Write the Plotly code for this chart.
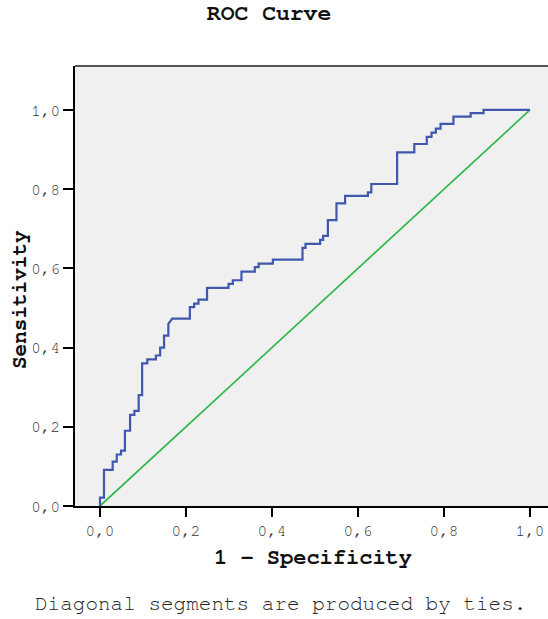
import plotly.graph_objects as go

# ROC curve vertices (1 - specificity, sensitivity)
fpr = [0, 0, 0.0093, 0.0093, 0.0295, 0.0295, 0.039, 0.039, 0.049, 0.049, 0.058, 0.058,
       0.07, 0.07, 0.08, 0.08, 0.09, 0.09, 0.098, 0.098, 0.11, 0.11, 0.13, 0.13, 0.14, 0.14,
       0.149, 0.149, 0.159, 0.159, 0.168, 0.209, 0.209, 0.219, 0.219, 0.229, 0.229, 0.249,
       0.249, 0.299, 0.299, 0.309, 0.309, 0.329, 0.329, 0.36, 0.36, 0.369, 0.369, 0.402,
       0.402, 0.471, 0.471, 0.478, 0.478, 0.512, 0.512, 0.519, 0.519, 0.53, 0.53, 0.55,
       0.55, 0.57, 0.57, 0.623, 0.623, 0.631, 0.631, 0.691, 0.691, 0.731, 0.731, 0.76,
       0.76, 0.771, 0.771, 0.781, 0.781, 0.792, 0.792, 0.822, 0.822, 0.862, 0.862, 0.892,
       0.892, 1.0]
tpr = [0, 0.021, 0.021, 0.091, 0.091, 0.112, 0.112, 0.13, 0.13, 0.14, 0.14, 0.19,
       0.19, 0.23, 0.23, 0.24, 0.24, 0.28, 0.28, 0.36, 0.36, 0.37, 0.37, 0.38, 0.38, 0.40,
       0.40, 0.43, 0.43, 0.46, 0.473, 0.473, 0.502, 0.502, 0.511, 0.511, 0.521, 0.521,
       0.551, 0.551, 0.561, 0.561, 0.570, 0.570, 0.592, 0.592, 0.603, 0.603, 0.612, 0.612,
       0.622, 0.622, 0.652, 0.652, 0.662, 0.662, 0.672, 0.672, 0.682, 0.682, 0.722, 0.722,
       0.764, 0.764, 0.783, 0.783, 0.792, 0.792, 0.813, 0.813, 0.893, 0.893, 0.914, 0.914,
       0.932, 0.932, 0.943, 0.943, 0.953, 0.953, 0.965, 0.965, 0.983, 0.983, 0.992, 0.992,
       1.0, 1.0]

ref_x = [0, 1]
ref_y = [0, 1]

tick_vals = [0, 0.2, 0.4, 0.6, 0.8, 1.0]
tick_text = ["0,0", "0,2", "0,4", "0,6", "0,8", "1,0"]

MONO = "Nimbus Mono PS, FreeMono, Courier New, Liberation Mono, monospace"

fig = go.Figure()
fig.add_trace(go.Scatter(x=ref_x, y=ref_y, mode="lines",
                         line=dict(color="#2DB84A", width=1.7), hoverinfo="skip"))
fig.add_trace(go.Scatter(x=fpr, y=tpr, mode="lines",
                         line=dict(color="#3F58AE", width=2.2)))

fig.update_layout(
    width=548, height=619,
    margin=dict(l=75, r=0, t=66, b=113),
    paper_bgcolor="white", plot_bgcolor="#F0F0F0",
    showlegend=False,
    font=dict(family=MONO, color="#222222"),
)
fig.update_xaxes(range=[-0.0581, 1.0419], tickvals=tick_vals, ticktext=tick_text,
                 showgrid=False, zeroline=False, showline=True, linecolor="black",
                 linewidth=1.5, ticks="outside", ticklen=9, tickwidth=1.5, tickcolor="black",
                 tickfont=dict(family=MONO, size=16, color="#333333"))
fig.update_yaxes(range=[0, 1.111], tickvals=tick_vals, ticktext=tick_text,
                 showgrid=False, zeroline=False, showline=True, linecolor="black",
                 linewidth=1.5, ticks="outside", ticklen=10, tickwidth=1.5, tickcolor="black",
                 tickfont=dict(family=MONO, size=16, color="#333333"))

# top border of the plot frame
fig.add_shape(type="line", xref="paper", yref="paper", x0=0, x1=1, y0=1, y1=1,
              line=dict(color="#555555", width=2))

fig.add_annotation(text="<b>ROC Curve</b>", xref="paper", yref="paper",
                   x=(269 - 75) / 473, y=1 + (66 - 13) / 440, showarrow=False,
                   xanchor="center", yanchor="middle",
                   font=dict(family=MONO, size=23, color="#111111"))
fig.add_annotation(text="<b>1 - Specificity</b>", xref="paper", yref="paper",
                   x=(313 - 75) / 473, y=-(557 - 506) / 440, showarrow=False,
                   xanchor="center", yanchor="middle",
                   font=dict(family=MONO, size=22, color="#111111"))
fig.add_annotation(text="<b>Sensitivity</b>", xref="paper", yref="paper",
                   x=-(75 - 19) / 473, y=(506 - 300) / 440, showarrow=False,
                   textangle=-90, xanchor="center", yanchor="middle",
                   font=dict(family=MONO, size=21, color="#111111"))
fig.add_annotation(text="Diagonal segments are produced by ties.", xref="paper", yref="paper",
                   x=-(75 - 33) / 473, y=-(603 - 506) / 440, showarrow=False,
                   xanchor="left", yanchor="middle",
                   font=dict(family=MONO, size=21, color="#222222"))

fig.write_html("out.html")
